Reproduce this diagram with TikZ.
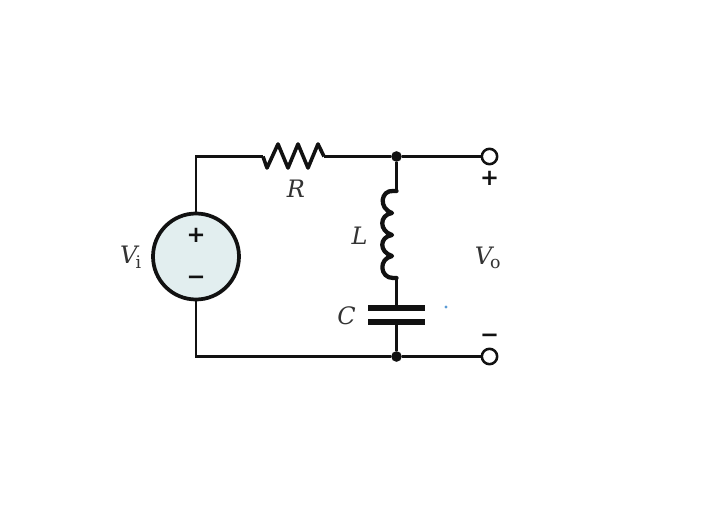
\documentclass[tikz,border=0pt]{standalone}
\usepackage{fontspec}
\setmainfont{DejaVu Serif}
\setsansfont{DejaVu Sans}
\usetikzlibrary{positioning}
\definecolor{wirecol}{HTML}{111111}
\definecolor{labelcol}{HTML}{333333}
\definecolor{srcfill}{HTML}{E2EEEF}
\definecolor{speckcol}{HTML}{5B9BD5}
\tikzset{
  wire/.style={draw=wirecol,line width=2.2pt,line join=miter},
  junction/.style={circle,fill=wirecol,inner sep=0pt,minimum size=8pt},
  terminal/.style={circle,draw=wirecol,fill=white,line width=1.9pt,inner sep=0pt,minimum size=11.5pt},
  source/.style={circle,draw=wirecol,fill=srcfill,line width=2.8pt,inner sep=0pt,minimum size=64.5pt},
  plate/.style={draw=wirecol,line width=3.8pt},
  lbl/.style={text=labelcol,inner sep=0pt,font=\fontsize{18}{20}\selectfont\itshape},
  sign/.style={text=wirecol,inner sep=0pt,font=\sffamily\bfseries\fontsize{17}{17}\selectfont},
}
\newcommand{\subtxt}[1]{\kern-1.5pt\textsubscript{\normalfont\fontsize{13}{13}\selectfont #1}}
\begin{document}
\begin{tikzpicture}[x=0.75pt,y=-0.75pt]
  \useasboundingbox (0,0) rectangle (724,527);
  % corners and free ends of the parts
  \coordinate (cornerTL) at (196,156.5);
  \coordinate (cornerBL) at (196,356.5);
  \coordinate (resIn) at (263,156.5);
  \coordinate (resOut) at (324,156.5);
  \coordinate (indTop) at (396.5,191);
  \coordinate (indBot) at (396.5,278);
  \coordinate (capTop) at (396.5,308);
  \coordinate (capBot) at (396.5,322);
  \node[source] (src) at (196,256.5) {};
  \node[junction] (jTop) at (396.5,156.5) {};
  \node[junction] (jBot) at (396.5,356.5) {};
  \node[terminal] (tTop) at (489.5,156.5) {};
  \node[terminal] (tBot) at (489.5,356.5) {};
  % wires
  \draw[wire] (src.north) -- (cornerTL) -- (resIn);
  \draw[wire] (resOut) -- (jTop) -- (tTop);
  \draw[wire] (src.south) -- (cornerBL) -- (jBot) -- (tBot);
  \draw[wire] (jTop) -- (indTop);
  \draw[wire] (indBot) -- (capTop);
  \draw[wire] (capBot) -- (jBot);
  % resistor
  \draw[wire,line width=2.7pt,line join=round] (resIn) -- (267,168) -- (278,144) -- (288,168) -- (298,144)
    -- (308,168) -- (318,144) -- (resOut);
  % inductor
  \draw[draw=wirecol,line width=3.2pt,line cap=round,line join=round] (indTop) -- (393,191)
    .. controls (381,190) and (378,208) .. (392,213)
    .. controls (379,215) and (379,231) .. (392,235)
    .. controls (379,237) and (379,252) .. (392,256)
    .. controls (378,259) and (380,278) .. (393,278) -- (indBot);
  % capacitor
  \draw[plate] (368,308) -- (425,308);
  \draw[plate] (368,322) -- (425,322);
  % signs
  \node[sign] (srcPlus) at (196,235) {+};
  \node[sign] (srcMinus) at (196,277) {\vphantom{+}−};
  \node[sign] (outPlus) at (489.5,178) {+};
  \node[sign] (outMinus) at (489.5,335) {\vphantom{+}−};
  % labels
  \node[lbl] (lblR) at (296,189) {R};
  \node[lbl] (lblL) at (359.5,236) {L};
  \node[lbl] (lblC) at (346.5,316) {C};
  \node[lbl] (lblVi) at (131,257) {V\subtxt{i}};
  \node[lbl] (lblVo) at (488,258) {V\subtxt{o}};
  \fill[speckcol] (446,307) circle (1.2pt);
\end{tikzpicture}
\end{document}
